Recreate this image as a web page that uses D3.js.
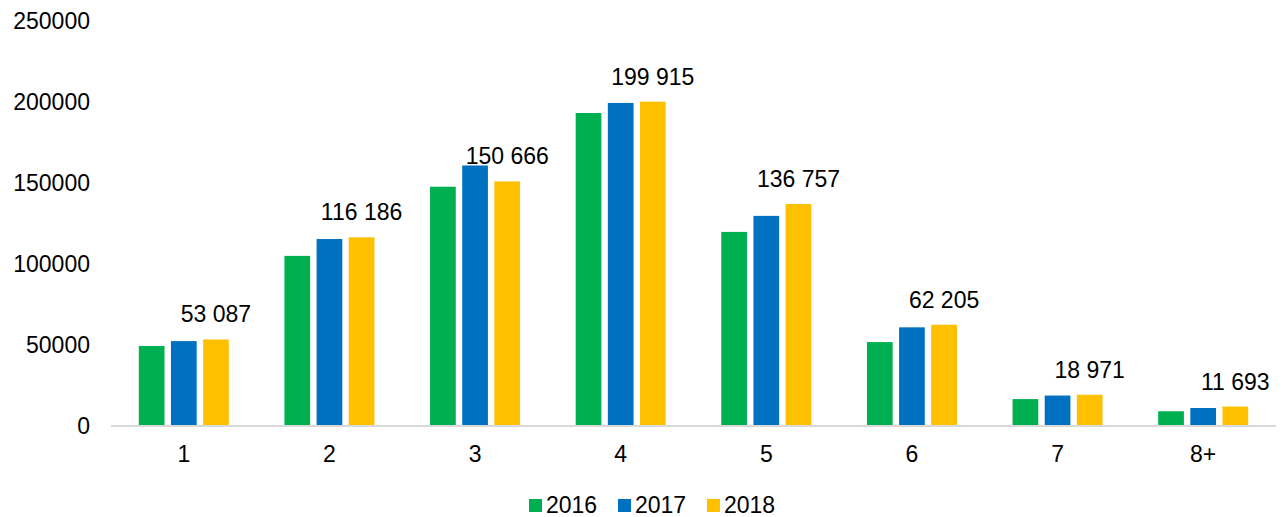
<!DOCTYPE html>
<head>
    <meta charset="utf-8">
    <title>Grouped Bar Chart</title>
    <script src="https://cdn.jsdelivr.net/npm/d3@7"></script>
    <style>
        body { margin: 0; background: #fff; }
        text { font-family: "Liberation Sans", Arial, sans-serif; fill: #000; }
    </style>
</head>
<body>
<div id="container"></div>
<script>
    //----------------------------DATA------------------------------//
    const categories = ["1", "2", "3", "4", "5", "6", "7", "8+"];
    const years = ["2016", "2017", "2018"];
    const values2016 = [49100, 104700, 147400, 192900, 119500, 51500, 16300, 8800];
    const values2017 = [52100, 115100, 160500, 199100, 129400, 60600, 18500, 10800];
    const values2018 = [53087, 116186, 150666, 199915, 136757, 62205, 18971, 11693];
    const yTicks = [0, 50000, 100000, 150000, 200000, 250000];
    const colors = ["#00b050", "#0070c0", "#ffc000"];

    const seriesValues = [values2016, values2017, values2018];

    //-----------------------------SVG------------------------------//
    const width = 1284;
    const height = 517;
    const svg = d3.select("#container").append("svg")
        .attr("width", width)
        .attr("height", height);

    //----------------------------SCALES----------------------------//
    const x0 = d3.scaleBand()
        .domain(categories)
        .range([111, 1276])
        .paddingInner(0.382)
        .paddingOuter(0.191);

    const x1 = d3.scaleBand()
        .domain(years)
        .range([0, x0.bandwidth()])
        .paddingInner(0.2);

    const y = d3.scaleLinear()
        .domain([0, 250000])
        .range([425.5, 20.5]);

    //-----------------------------AXES-----------------------------//
    const yAxis = svg.append("g")
        .attr("transform", "translate(90,0)")
        .call(d3.axisLeft(y).tickValues(yTicks).tickSize(0).tickPadding(0).tickFormat(d3.format("d")));
    yAxis.select(".domain").remove();
    yAxis.selectAll("text")
        .attr("font-size", 23)
        .attr("dy", "0.35em")
        .attr("font-family", "Liberation Sans, Arial, sans-serif")
        .style("fill", "#000");

    const xAxis = svg.append("g")
        .attr("transform", "translate(0," + y(0) + ")")
        .call(d3.axisBottom(x0).tickSize(0).tickPadding(0).tickSizeOuter(0));
    xAxis.select(".domain").remove();
    xAxis.selectAll("text")
        .attr("font-size", 23)
        .attr("y", 36)
        .attr("dy", 0)
        .attr("font-family", "Liberation Sans, Arial, sans-serif")
        .style("fill", "#000");

    //----------------------------BARS------------------------------//
    const groups = svg.selectAll("g.group")
        .data(categories)
        .enter()
        .append("g")
        .attr("class", "group")
        .attr("transform", function(d) { return "translate(" + x0(d) + ",0)"; });

    groups.selectAll("rect")
        .data(function(d, i) {
            return years.map(function(yr, j) {
                return { year: yr, value: seriesValues[j][i], color: colors[j] };
            });
        })
        .enter()
        .append("rect")
        .attr("x", function(d) { return x1(d.year); })
        .attr("y", function(d) { return y(d.value); })
        .attr("width", x1.bandwidth())
        .attr("height", function(d) { return y(0) - y(d.value); })
        .attr("fill", function(d) { return d.color; });

    // baseline
    svg.append("line")
        .attr("x1", 111)
        .attr("x2", 1276)
        .attr("y1", y(0) + 0.5)
        .attr("y2", y(0) + 0.5)
        .attr("stroke", "#d9d9d9")
        .attr("stroke-width", 2);

    //---------------------------LABELS-----------------------------//
    const fmt = function(v) { return d3.format(",")(v).replace(/,/g, " "); };
    groups.append("text")
        .attr("x", function(d) { return x1("2018") + x1.bandwidth() / 2; })
        .attr("y", function(d, i) { return y(values2018[i]) - 17; })
        .attr("text-anchor", "middle")
        .attr("font-size", 23)
        .text(function(d, i) { return fmt(values2018[i]); });

    //---------------------------LEGEND-----------------------------//
    const legend = svg.append("g")
        .attr("transform", "translate(529,0)");
    const items = legend.selectAll("g")
        .data(years)
        .enter()
        .append("g")
        .attr("transform", function(d, i) { return "translate(" + (i * 89) + ",0)"; });
    items.append("rect")
        .attr("y", 499)
        .attr("width", 13)
        .attr("height", 13)
        .attr("fill", function(d, i) { return colors[i]; });
    items.append("text")
        .attr("x", 17)
        .attr("y", 513)
        .attr("font-size", 23)
        .text(function(d) { return d; });
</script>
</body>
